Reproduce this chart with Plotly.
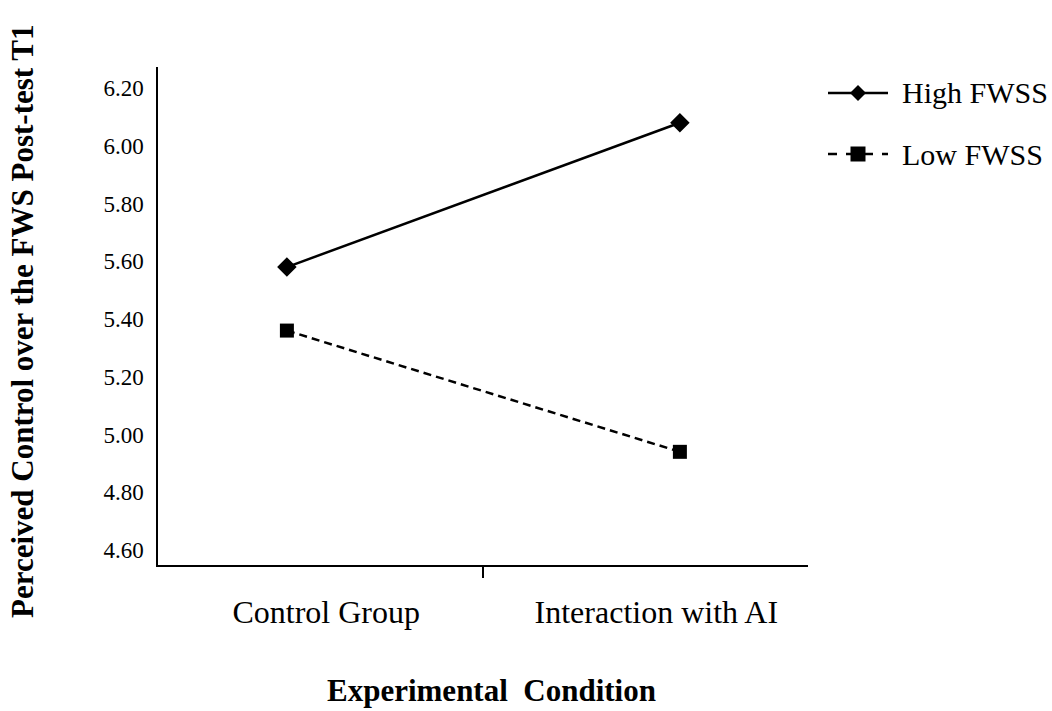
import plotly.graph_objects as go

# Interaction plot: perceived control at post-test T1 by condition and FWSS level
conditions = ["Control Group", "Interaction with AI"]
high_fwss = [5.58, 6.08]
low_fwss = [5.36, 4.94]
y_ticks = [4.60, 4.80, 5.00, 5.20, 5.40, 5.60, 5.80, 6.00, 6.20]
series_names = ["High FWSS", "Low FWSS"]

serif = "'Times New Roman', 'Liberation Serif', serif"
x_pos = list(range(len(conditions)))

fig = go.Figure()
fig.add_trace(go.Scatter(
    x=x_pos, y=high_fwss, name=series_names[0], mode="lines+markers",
    line=dict(color="black", width=2.5),
    marker=dict(symbol="diamond", size=15, color="black"),
    showlegend=False,
))
fig.add_trace(go.Scatter(
    x=x_pos, y=low_fwss, name=series_names[1], mode="lines+markers",
    line=dict(color="black", width=2.5, dash="8px,5px"),
    marker=dict(symbol="square", size=14, color="black"),
    showlegend=False,
))

# Legend drawn as paper-space glyphs so the sample lines are full length
legend_rows = [
    dict(y=93, dash="solid", glyph="diamond"),
    dict(y=154, dash="dash", glyph="square"),
]
W, H = 1052, 711
for name, row in zip(series_names, legend_rows):
    yp = 1 - row["y"] / H
    fig.add_shape(type="line", xref="paper", yref="paper",
                  x0=828 / W, x1=888 / W, y0=yp, y1=yp,
                  line=dict(color="black", width=2.5, dash=row["dash"]))
    cx, cy = 858 / W, yp
    if row["glyph"] == "diamond":
        dx, dy = 8 / W, 8 / H
        path = (f"M{cx - dx},{cy} L{cx},{cy + dy} L{cx + dx},{cy} "
                f"L{cx},{cy - dy} Z")
    else:
        dx, dy = 7.5 / W, 7.5 / H
        path = (f"M{cx - dx},{cy - dy} L{cx + dx},{cy - dy} "
                f"L{cx + dx},{cy + dy} L{cx - dx},{cy + dy} Z")
    fig.add_shape(type="path", xref="paper", yref="paper", path=path,
                  fillcolor="black", line=dict(color="black", width=0))
    fig.add_annotation(xref="paper", yref="paper", x=900 / W, y=yp,
                       xanchor="left", yanchor="middle", showarrow=False,
                       text=name,
                       font=dict(family=serif, size=30, color="black"))

# Axis titles
fig.add_annotation(xref="paper", yref="paper", x=491 / W, y=1 - 690 / H,
                   xanchor="center", yanchor="middle", showarrow=False,
                   text="<b>Experimental  Condition</b>",
                   font=dict(family=serif, size=31, color="black"))
fig.add_annotation(xref="paper", yref="paper", x=22 / W, y=1 - 322 / H,
                   xanchor="center", yanchor="middle", showarrow=False,
                   textangle=-90,
                   text="<b>Perceived Control over the FWS Post-test T1</b>",
                   font=dict(family=serif, size=31, color="black"))

fig.update_layout(
    width=W, height=H,
    margin=dict(l=0, r=0, t=0, b=0, autoexpand=False),
    paper_bgcolor="white", plot_bgcolor="white",
    font=dict(family=serif, color="black"),
    showlegend=False,
    xaxis=dict(domain=[158 / W, 808 / W]),
    yaxis=dict(domain=[1 - 565 / H, 1 - 67 / H]),
)

fig.update_xaxes(
    range=[-0.328, 1.326],
    showline=True, linecolor="black", linewidth=1.5,
    showgrid=False, zeroline=False,
    tickmode="array", tickvals=[0.1, 0.94], ticktext=conditions,
    ticks="", ticklabelstandoff=18,
    tickfont=dict(family=serif, size=32, color="black"),
    minor=dict(tickmode="array", tickvals=[0.5], ticks="outside",
               ticklen=11, tickwidth=1.5, tickcolor="black", showgrid=False),
)

fig.update_yaxes(
    range=[4.548, 6.273],
    showline=True, linecolor="black", linewidth=1.5,
    showgrid=False, zeroline=False,
    tickmode="array", tickvals=y_ticks,
    ticktext=[f"{v:.2f}" for v in y_ticks],
    ticks="", ticklabelstandoff=8,
    tickfont=dict(family=serif, size=23, color="black"),
)

fig.write_html("out.html")
